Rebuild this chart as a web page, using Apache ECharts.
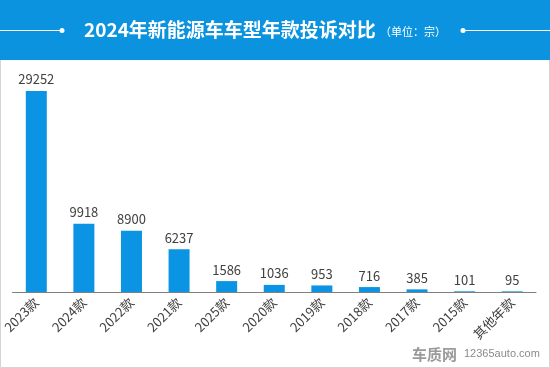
<!DOCTYPE html>
<html><head><meta charset="utf-8">
<script src="https://cdn.jsdelivr.net/npm/echarts@6/dist/echarts.min.js"></script>
<style>html,body{margin:0;padding:0;background:#fff}#c{width:550px;height:368px}</style>
</head><body><div id="c"></div>
<script>
const categories = ['2023款','2024款','2022款','2021款','2025款','2020款','2019款','2018款','2017款','2015款','其他年款'];
const complaints = [29252, 9918, 8900, 6237, 1586, 1036, 953, 716, 385, 101, 95];
const titleText = '2024年新能源车车型年款投诉对比';
const unitText = '（单位：宗）';

const chart = echarts.init(document.getElementById('c'), null, {renderer:'canvas'});
const font = '"Noto Sans CJK SC","Microsoft YaHei",sans-serif';
chart.setOption({
  animation:false,
  backgroundColor:'#fff',
  grid:{left:12, right:14, top:91, bottom:76, containLabel:false},
  xAxis:{type:'category', data:categories,
    axisLine:{lineStyle:{color:'#7f7f7f', width:1}},
    axisTick:{show:false},
    axisLabel:{rotate:45, color:'#404040', fontSize:13, fontFamily:font, interval:0, margin:8}},
  yAxis:{type:'value', min:0, max:29252, show:false, splitLine:{show:false}},
  series:[{type:'bar', data:complaints, barWidth:21,
    itemStyle:{color:'#0b93e4'},
    label:{show:true, position:'top', color:'#404040', fontSize:13, fontFamily:font, distance:5}}],
  graphic:[
    {type:'rect', shape:{x:0.5,y:0.5,width:549,height:367}, style:{fill:'none', stroke:'#d4d4d4', lineWidth:1}, z:-1},
    {type:'rect', shape:{x:0,y:0,width:550,height:60}, style:{fill:'#0b93e0'}},
    {type:'line', shape:{x1:0,y1:30.5,x2:62,y2:30.5}, style:{stroke:'#fff', lineWidth:1}},
    {type:'circle', shape:{cx:62,cy:30.5,r:2.5}, style:{fill:'#fff'}},
    {type:'line', shape:{x1:463,y1:30.5,x2:550,y2:30.5}, style:{stroke:'#fff', lineWidth:1}},
    {type:'circle', shape:{cx:463,cy:30.5,r:2.5}, style:{fill:'#fff'}},
    {type:'text', x:84, y:30, style:{text:titleText, fill:'#fff', font:'bold 19px '+font, textVerticalAlign:'middle', textAlign:'left'}},
    {type:'text', x:380, y:32, style:{text:unitText, fill:'#fff', font:'11px '+font, textVerticalAlign:'middle', textAlign:'left'}},
    {type:'text', x:412, y:354, style:{text:'车质网', fill:'#9a9a9a', font:'bold 15px '+font, textVerticalAlign:'middle'}},
    {type:'text', x:464, y:354, style:{text:'12365auto.com', fill:'#8a8a8a', font:'11px "Liberation Sans",sans-serif', textVerticalAlign:'middle'}}
  ]
});
</script></body></html>
